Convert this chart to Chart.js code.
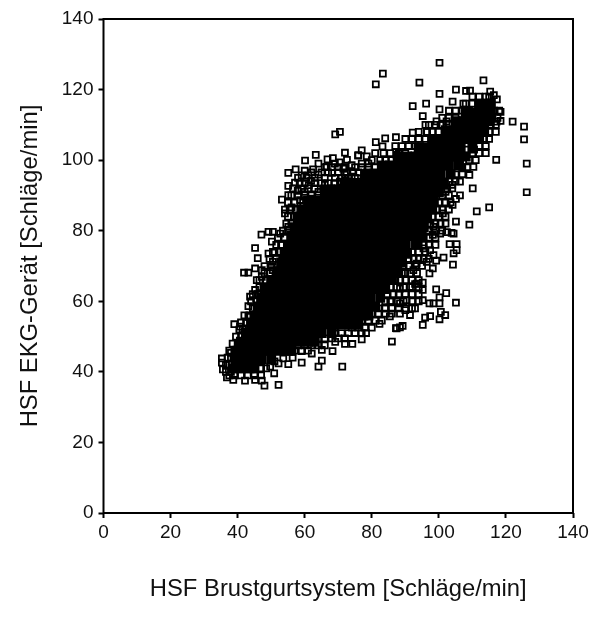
<!DOCTYPE html>
<html>
<head>
<meta charset="utf-8">
<style>
  html, body { margin: 0; padding: 0; background: #fff; }
  canvas { display: block; }
</style>
<script src="https://cdn.jsdelivr.net/npm/chart.js@4"></script>
</head>
<body>
<canvas id="chart" width="600" height="622"></canvas>
<script>
const xTitle = 'HSF Brustgurtsystem [Schläge/min]';
const yTitle = 'HSF EKG-Gerät [Schläge/min]';
const axisTicks = [0, 20, 40, 60, 80, 100, 120, 140];

// single readable squares
const openPoints = [
  [100.2,127.6],[83.3,124.5],[81.2,121.5],[94.2,122],[113.3,122.6],[100.2,118.8],[105.1,120],[108.1,119.6],[109.3,119.7],
  [104.1,116.6],[96.2,116],[92.2,115.3],[100.2,114.4],[95.2,112.5],[107.3,116],[115.3,119.4],[116.4,118.4],[117.3,117.2],
  [118.4,113.7],[118.4,111.1],[117.2,110.9],[122,110.9],[125.4,109.5],[125.4,105.9],[117.1,100.1],[126.2,99],[126.2,90.9],
  [110.1,92],[115,86.6],[111.3,85.5],[105.1,82.6],[109.1,81.7],[103.8,79.4],[102.4,79.6],[98.2,78.8],[92.2,107.8],
  [87.2,106.5],[84,106.2],[81.2,105.1],[83.2,103.9],[72,102.1],[70.5,108],[69.1,107.3],[77,102.8],[76,101.4],[110.3,98.1],
  [109.1,95.8],[106.3,93.9],[105.1,89],[104.1,87.3],[101.2,84.9],[96,110],[96.4,108],[99.3,111],[100.5,110],[102.3,111],
  [94.5,104],[94.5,102.5],[87.4,101.5],[87.4,100],[89,100.5],[90.9,100.5],[84,98],[85.4,97],[81,96],[79,99],[74,98.6],
  [72,96],[73,94],[83.4,94],[80.5,93],[104,93],[102,91],[106.3,90],[110.5,103],[112,106],[108.2,103],[103,104],
  [60.1,99.9],[63.3,101.5],[75.9,101.3],[78.5,101.1],[64.1,99],[77,99],[55.1,96.4],[59.1,95.7],[61.1,95.7],[64.1,95.9],
  [66.6,98.1],[69,99],[68.1,96.4],[71.5,97.6],[57.1,93.6],[55.1,92.7],[61.9,94.1],[61.2,92.9],[57.9,91.3],[53.2,88.8],
  [55.1,90.1],[58.6,88.7],[54.1,86],[54.1,84.9],[56.1,86.6],[62.1,89.1],[64.1,91],[70.5,93.9],[74,95.3],[66,93],[68,92],
  [60,91],[47.1,78.9],[49.2,79.7],[50.5,79.7],[52.7,79.2],[50.2,76.9],[55.1,81.1],[45.2,75.1],[49.2,73.5],[51,73.8],
  [46,72.2],[41.9,68.1],[43.2,68.1],[45.2,69.3],[47.2,68.8],[50.5,71.2],[50.5,68.8],[45.7,66],[47.2,66.9],[45.2,63.2],
  [43.7,61.3],[43.2,58.6],[43.2,55.6],[39,53.5],[40.7,52.8],[51.2,66],[51.2,64.1],[53,76],[54,72],
  [87.4,52.3],[89.2,53],[86,48.6],[82.3,53.6],[78.3,51],[88.4,56.5],[85.4,55.7],[91.4,56.1],[91.4,67.9],[92.4,68.8],
  [88.4,63.6],[90.4,60.3],[88.4,59.4],[91.4,64.1],[93.4,65],[86,60],[87,66],[89,68],[84,58],[92.9,58],[90,57.5],
  [99.2,63.4],[102.2,62.3],[105.1,59.6],[95.2,60.3],[95.2,63.2],[95.2,65.3],[92.9,64.9],[97.2,59.4],[98.4,59.4],[100.2,61.1],
  [100.2,59.4],[100.6,57],[101.9,56.1],[100.2,54.9],[95.9,55.4],[97.4,55.8],[95.2,53.3],[87.2,52.4],[88.4,52.6],
  [77,49.2],[74.2,47.9],[72,47.9],[69.1,48.5],[68.3,45.9],[65.1,46.2],[62.1,45.2],[59.1,45.9],[59.1,42.6],[65.1,43.2],
  [64.1,41.5],[71.2,41.5],[56.4,44],[55.1,42.2],[52.2,36.3],[48,36.1],[50.9,39.6],[47.2,37.5],[45.2,37.7],[42.2,37.5],
  [35.3,43.8],[35.3,42.6],[35.6,40.7],[36.8,38.4],[38.7,37.7],[38,45.4],[50.2,43.8],[52.2,42.4],[49.7,41.5],[53.6,43.8],
  [98.4,81.1],[100.4,79.2],[104.4,79.2],[103.2,76.2],[105.3,76.2],[105.3,74.5],[104.4,73.6],[101.4,72.4],[104.2,70.4],
  [99.2,71.5],[98.2,69.3],[97.2,67.9],[96.4,71.2],[95.4,75],[97.4,74.5],[98.4,73.1],[93.4,70.7],
  [66.8,100.2],[68.4,100.6],[70.4,99.4],[72.6,100.1],[62.5,97.4],[60,97],[57.3,97.4]
];

// crowded squares along the edge of the black core, one x-list per y
const fringeY = [39, 40, 41, 42, 43, 44, 46, 47.5, 48, 49.5, 50, 51, 52, 52.5, 54, 54.5, 56, 56.5, 58, 60, 62, 64, 66, 68, 70, 72, 74, 76, 78, 80, 82, 84, 86, 88, 90, 92, 93.5, 94, 95, 96, 96.5, 98, 100, 102, 104, 106, 108, 110, 112, 114, 116, 118];
const fringeX = [
  [37.5,39,41,43,45,47],
  [36.5,38],
  [47,48.5],
  [36.5,37.5],
  [47,51],
  [37,38],
  [37.5,39,57,59,61],
  [58,60,62,64,66],
  [38.5,40],
  [64,66,68,70,72],
  [39.5,41],
  [69,71,73,75,77],
  [40.5,41.5],
  [69,74,76,78,80],
  [41,42.5],
  [77,79,81,83],
  [42,43.5],
  [80,82,84,86],
  [44.5,82,84,86,88,90,92],
  [44,45.5,84,85.5,87.5,89.5,92,94],
  [44.5,46,84.5,86.5,88,90,92,94],
  [46.5,85.5,87.5,89.5,92,94],
  [46.5,48.5,87,88.5,90,92,94],
  [48,49.5,88,90,93.5],
  [48,50,89.5,91,93,95],
  [49.5,51.5,91,92.5,94,95.5,97],
  [50.5,52.5,92,94,96],
  [51.5,53,94,95.5,97,99],
  [52,54,95.5,97,99],
  [53.5,55,97,99,101],
  [54.5,56,97.5,99,100.5,102],
  [55,57,98,100,102],
  [55.5,57.5,99.5,101,103],
  [55,57,59.5,100,102,103.5],
  [56,58,60,62,64,101,103],
  [56.5,59,61,63,65.5,68,70,102.5,104],
  [58.5,60,63,65,67,69,71],
  [103,105],
  [58,60.5,63,66,69,71,73,75,77.5,79],
  [105,107],
  [62,65,67,70,72.5,74.5,76,78.5,80.5],
  [66,68,70,72,75,77,79,81,107,108.5],
  [80,82.5,84,86,109,111],
  [81,83.5,85.5,88,90,110,112,114],
  [87,89,91,93,112,114],
  [90,92,94,96,113.5,115],
  [94,96.5,98,100,115,117],
  [97,99,101,103,115.5,117],
  [101,103,105,116,117.5],
  [103,105,107,109,116.5,118],
  [108,110],
  [110,112,114,115]
];

// solid black core: thousands of squares overlap here, so it is drawn as filled squares, one x-list per y
const coreY = [41, 43.5, 46, 48.5, 51, 53.5, 56, 58.5, 61, 63.5, 66, 68.5, 71, 73.5, 76, 78.5, 81, 83.5, 86, 88.5, 91, 93.5, 96, 98.5, 101, 103.5, 106, 108.5, 111, 113.5, 116];
const coreX = [
  [38.5,41,43.5,45],
  [39.5,42,44.5,47,50],
  [40,42.5,45,47.5,50,52.5,55,56],
  [41,43.5,46,48.5,51,53.5,56,58.5,61,63],
  [42.5,45,47.5,50,52.5,55,57.5,60,62.5,65,68],
  [44,46.5,49,51.5,54,56.5,59,61.5,64,66.5,69,71.5,74,76],
  [45,47.5,50,52.5,55,57.5,60,62.5,65,67.5,70,72.5,75,77.5,79],
  [46,48.5,51,53.5,56,58.5,61,63.5,66,68.5,71,73.5,76,78.5,81],
  [47,49.5,52,54.5,57,59.5,62,64.5,67,69.5,72,74.5,77,79.5,82.5],
  [48,50.5,53,55.5,58,60.5,63,65.5,68,70.5,73,75.5,78,80.5,83,84],
  [50,52.5,55,57.5,60,62.5,65,67.5,70,72.5,75,77.5,80,82.5,85,86],
  [52,54.5,57,59.5,62,64.5,67,69.5,72,74.5,77,79.5,82,84.5,87,87.5],
  [53,55.5,58,60.5,63,65.5,68,70.5,73,75.5,78,80.5,83,85.5,88,89],
  [54,56.5,59,61.5,64,66.5,69,71.5,74,76.5,79,81.5,84,86.5,89,90.5],
  [55,57.5,60,62.5,65,67.5,70,72.5,75,77.5,80,82.5,85,87.5,90,93],
  [56,58.5,61,63.5,66,68.5,71,73.5,76,78.5,81,83.5,86,88.5,91,93.5,94.5],
  [57,59.5,62,64.5,67,69.5,72,74.5,77,79.5,82,84.5,87,89.5,92,94.5,95.5],
  [58,60.5,63,65.5,68,70.5,73,75.5,78,80.5,83,85.5,88,90.5,93,95.5,96.5],
  [59,61.5,64,66.5,69,71.5,74,76.5,79,81.5,84,86.5,89,91.5,94,96.5,98],
  [61,63.5,66,68.5,71,73.5,76,78.5,81,83.5,86,88.5,91,93.5,96,98.5],
  [66,68.5,71,73.5,76,78.5,81,83.5,86,88.5,91,93.5,96,98.5,100],
  [72,74.5,77,79.5,82,84.5,87,89.5,92,94.5,97,99.5,101.5],
  [78,80.5,83,85.5,88,90.5,93,95.5,98,100.5,103.5],
  [83,85.5,88,90.5,93,95.5,98,100.5,103,106],
  [88,90.5,93,95.5,98,100.5,103,105.5,108],
  [94,96.5,99,101.5,104,106.5,110],
  [98,100.5,103,105.5,108,110.5,112],
  [102,104.5,107,109.5,112,113.5],
  [105,107.5,110,112.5,115],
  [108,110.5,113,115.5],
  [112,114,115.5]
];

function fromRows(rowY, rowX) {
    const pts = [];
    rowY.forEach((y, i) => {
        rowX[i].forEach(x => pts.push({ x: x, y: y }));
    });
    return pts;
}

const frame = {
    id: 'frame',
    afterDatasetsDraw(chart) {
        const a = chart.chartArea;
        const ctx = chart.ctx;
        ctx.save();
        ctx.strokeStyle = '#000';
        ctx.lineWidth = 2;
        ctx.strokeRect(a.left, a.top, a.right - a.left, a.bottom - a.top);
        ctx.restore();
    }
};

const tickFont = { family: '"Liberation Sans"', size: 19 };
const titleFont = { family: '"Liberation Sans"', size: 23.8 };

new Chart(document.getElementById('chart').getContext('2d'), {
    type: 'scatter',
    data: {
        datasets: [
            {
                label: 'core',
                data: fromRows(coreY, coreX),
                pointStyle: 'rect',
                pointRadius: 6,
                backgroundColor: '#000',
                borderColor: '#000',
                borderWidth: 1.5
            },
            {
                label: 'fringe',
                data: fromRows(fringeY, fringeX),
                pointStyle: 'rect',
                pointRadius: 4.2,
                backgroundColor: 'rgba(0,0,0,0)',
                borderColor: '#000',
                borderWidth: 1.8
            },
            {
                label: 'points',
                data: openPoints.map(p => ({ x: p[0], y: p[1] })),
                pointStyle: 'rect',
                pointRadius: 4.2,
                backgroundColor: 'rgba(0,0,0,0)',
                borderColor: '#000',
                borderWidth: 1.8
            }
        ]
    },
    options: {
        responsive: false,
        animation: false,
        events: [],
        layout: { padding: { top: 19, right: 27, bottom: 0, left: 0 } },
        plugins: { legend: { display: false }, tooltip: { enabled: false } },
        scales: {
            x: {
                type: 'linear',
                min: 0,
                max: 140,
                afterBuildTicks: s => { s.ticks = axisTicks.map(v => ({ value: v })); },
                afterFit: s => { s.height = 109; },
                border: { display: false },
                grid: { drawOnChartArea: false, drawTicks: true, tickLength: 5, tickWidth: 2, color: '#000' },
                ticks: { color: '#111', font: tickFont, padding: 3, maxRotation: 0, autoSkip: false },
                title: { display: true, text: xTitle, color: '#111', font: titleFont, padding: { top: 32, bottom: 18 } }
            },
            y: {
                type: 'linear',
                min: 0,
                max: 140,
                afterBuildTicks: s => { s.ticks = axisTicks.map(v => ({ value: v })); },
                afterFit: s => { s.width = 103.5; },
                border: { display: false },
                grid: { drawOnChartArea: false, drawTicks: true, tickLength: 5, tickWidth: 2, color: '#000' },
                ticks: { color: '#111', font: tickFont, padding: 5, autoSkip: false },
                title: { display: true, text: yTitle, color: '#111', font: titleFont, padding: { top: 16, bottom: 0 } }
            }
        }
    },
    plugins: [frame]
});
</script>
</body>
</html>
